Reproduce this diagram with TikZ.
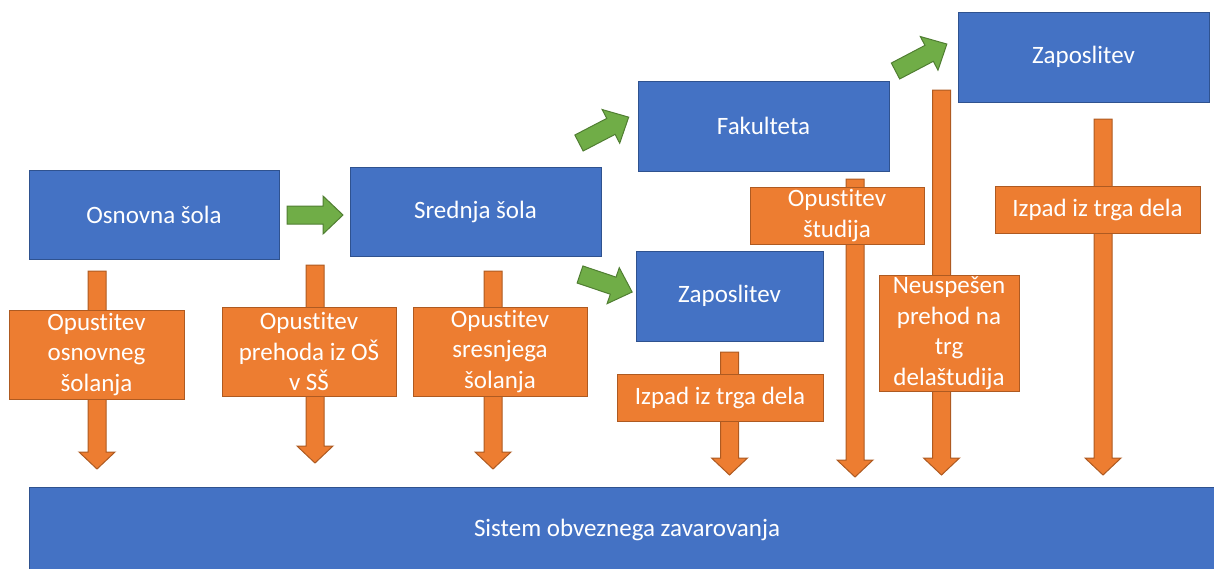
\documentclass[tikz,border=0pt]{standalone}
\usepackage{fontspec}
\setmainfont{Carlito}[Ligatures={NoCommon}]
\definecolor{bfill}{HTML}{4472C4}
\definecolor{bline}{HTML}{2F528F}
\definecolor{ofill}{HTML}{ED7D31}
\definecolor{oline}{HTML}{AE5A21}
\definecolor{gfill}{HTML}{70AD47}
\definecolor{gline}{HTML}{507E32}
\newcommand\diafont{\fontsize{25}{30.5}\selectfont}
\tikzset{
  bluebox/.style={draw=bline, fill=bfill, line width=1pt, text=white, inner sep=0pt, align=center, font=\diafont},
  orangebox/.style={draw=oline, fill=ofill, line width=1pt, text=white, inner sep=0pt, align=center, font=\diafont},
  oarrow/.style={draw=oline, fill=ofill, line width=1pt},
  garrow/.style={draw=gline, fill=gfill, line width=1pt},
}
% vertical orange block arrow: cx, ytop, ytip
\newcommand\dropArrow[3]{%
  \draw[oarrow] (#1-9,#2) -- (#1+9,#2) -- (#1+9,#3-17) -- (#1+18,#3-17) -- (#1,#3)
     -- (#1-18,#3-17) -- (#1-9,#3-17) -- cycle;}
% green block arrow: tail x, tail y, angle, length
\newcommand\stepArrow[4]{%
  \begin{scope}[shift={(#1,#2)}, rotate=#3]
    \draw[garrow] (0,-9) -- (#4-20,-9) -- (#4-20,-19) -- (#4,0) -- (#4-20,19) -- (#4-20,9) -- (0,9) -- cycle;
  \end{scope}}
\begin{document}
\begin{tikzpicture}[x=1pt, y=-1pt]
\useasboundingbox (0,0) rectangle (1214,568);
\clip (0,0) rectangle (1214,568);

% blue boxes
\node[bluebox, minimum width=250pt, minimum height=89pt] (os) at (154,214.5) {Osnovna šola};
\node[bluebox, minimum width=251pt, minimum height=89pt] (ss) at (475.5,211.5) {Srednja šola};
\node[bluebox, minimum width=251pt, minimum height=90pt] (fak) at (763.5,126) {Fakulteta};
\node[bluebox, minimum width=187pt, minimum height=90pt] (zap1) at (729.5,296) {Zaposlitev};
\node[bluebox, minimum width=251pt, minimum height=90pt] (zap2) at (1083.5,57) {Zaposlitev};
\node[bluebox, minimum width=1196pt, minimum height=86pt] (sov) at (627,530) {Sistem obveznega zavarovanja};

% green arrows
\stepArrow{287}{215}{0}{56}
\stepArrow{579}{143}{27.5}{56}
\stepArrow{580}{274.5}{-18.6}{55}
\stepArrow{895.5}{71}{27.7}{58}

% orange arrows
\dropArrow{97}{271}{469}
\dropArrow{315}{265}{463}
\dropArrow{493}{271}{469}
\dropArrow{729.5}{352}{475}
\dropArrow{855}{179}{477}
\dropArrow{941.5}{90}{475}
\dropArrow{1103}{119}{475}

% orange boxes
\node[orangebox, minimum width=175pt, minimum height=89pt] (o1) at (96.5,354.5) {Opustitev\\osnovneg\\šolanja};
\node[orangebox, minimum width=174pt, minimum height=89pt] (o2) at (309,351.5) {Opustitev\\prehoda iz OŠ\\v SŠ};
\node[orangebox, minimum width=174pt, minimum height=89pt] (o3) at (500,351.5) {Opustitev\\sresnjega\\šolanja};
\node[orangebox, minimum width=206pt, minimum height=47pt] (o4) at (720,397.5) {Izpad iz trga dela};
\node[orangebox, minimum width=174pt, minimum height=57pt] (o5) at (837,215.5) {Opustitev\\študija};
\node[orangebox, minimum width=140pt, minimum height=116pt] (o6) at (949,333) {Neuspešen\\prehod na\\trg\\delaštudija};
\node[orangebox, minimum width=205pt, minimum height=47pt] (o7) at (1097.5,209.5) {Izpad iz trga dela};
\end{tikzpicture}
\end{document}
